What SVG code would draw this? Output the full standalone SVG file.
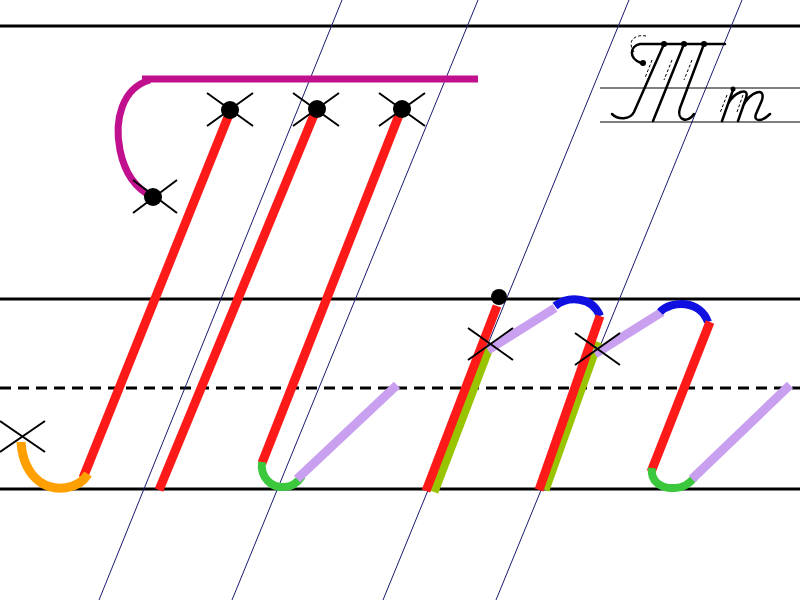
<svg xmlns="http://www.w3.org/2000/svg" width="800" height="600" viewBox="0 0 800 600">
<style>
.rule{stroke:#000;stroke-width:3;fill:none}
.dash{stroke:#000;stroke-width:3;stroke-dasharray:11 7;fill:none}
.guide{stroke:#1a1a70;stroke-width:1;fill:none}
.red{stroke:#ff1a1a;stroke-width:9;fill:none}
.vio{stroke:#c9a0f0;stroke-width:9;fill:none}
.yg{stroke:#99c400;stroke-width:9;fill:none}
.grn{stroke:#3cc83c;stroke-width:8;fill:none}
.blu{stroke:#1010e0;stroke-width:8;fill:none}
.org{stroke:#ffa000;stroke-width:9;fill:none}
.mag{stroke:#c0108e;stroke-width:7;fill:none}
.x{stroke:#000;stroke-width:2;fill:none}
.dot{fill:#000}
.logo{stroke:#000;stroke-width:2.5;fill:none;stroke-linecap:round}
.logothin{stroke:#000;stroke-width:1;fill:none}
.logodash{stroke:#000;stroke-width:1;fill:none;stroke-dasharray:3 2}
</style>
<rect width="800" height="600" fill="#fff"/>
<g id="ruling">
<line class="rule" x1="0" y1="26" x2="800" y2="26"/>
<line class="rule" x1="0" y1="299" x2="800" y2="299"/>
<line class="dash" x1="0" y1="388" x2="800" y2="388"/>
<line class="rule" x1="0" y1="489" x2="800" y2="489"/>
<line class="guide" x1="342" y1="0" x2="99" y2="600"/>
<line class="guide" x1="478" y1="0" x2="232" y2="600"/>
<line class="guide" x1="629" y1="0" x2="383" y2="600"/>
<line class="guide" x1="742" y1="0" x2="496" y2="600"/>
</g>
<g id="capital-T">
<line class="mag" x1="142" y1="79" x2="478" y2="79"/>
<path class="mag" d="M150,80 C122,88 114,120 120,150 C125,175 138,190 153,197"/>
<line class="red" x1="230" y1="112" x2="83" y2="478"/>
<path class="org" d="M88,474 C78,490 55,492 40,482 C28,473 22,458 21,442"/>
<line class="red" x1="316" y1="110" x2="159" y2="490"/>
<line class="red" x1="401" y1="110" x2="262" y2="463"/>
<path class="grn" d="M262,462 C260,478 272,488 284,487 C292,487 298,482 302,476"/>
<line class="vio" x1="297" y1="479" x2="397" y2="385"/>
</g>
<g id="lower-t">
<line class="yg" x1="489" y1="348" x2="434" y2="492"/>
<line class="red" x1="497" y1="306" x2="426" y2="491"/>
<line class="vio" x1="488" y1="350" x2="555" y2="308"/>
<path class="blu" d="M555,306 C568,296 592,296 600,316"/>
<line class="yg" x1="598" y1="342" x2="545" y2="490"/>
<line class="red" x1="600" y1="316" x2="539" y2="490"/>
<line class="vio" x1="595" y1="354" x2="662" y2="312"/>
<path class="blu" d="M660,312 C672,300 700,300 708,322"/>
<line class="red" x1="710" y1="322" x2="651" y2="472"/>
<path class="grn" d="M652,468 C650,482 662,489 675,488 C684,488 690,483 695,477"/>
<line class="vio" x1="692" y1="479" x2="790" y2="385"/>
</g>
<g id="points">
<circle class="dot" cx="230" cy="110" r="9"/>
<circle class="dot" cx="317" cy="109" r="9"/>
<circle class="dot" cx="402" cy="109" r="9"/>
<circle class="dot" cx="153" cy="197" r="9"/>
<circle class="dot" cx="499" cy="297" r="8"/>
<path class="x" d="M207,93 L253,126 M207,126 L253,93"/>
<path class="x" d="M293,93 L339,126 M293,126 L339,93"/>
<path class="x" d="M379,93 L425,126 M379,126 L425,93"/>
<path class="x" d="M133,180 L177,213 M133,213 L177,180"/>
<path class="x" d="M0,421 L45,452 M0,452 L45,421"/>
<path class="x" d="M468,328 L513,360 M468,360 L513,328"/>
<path class="x" d="M575,333 L620,365 M575,365 L620,333"/>
</g>
<g id="sample">
<line class="logothin" x1="600" y1="88" x2="800" y2="88"/>
<line class="logothin" x1="600" y1="122" x2="800" y2="122"/>
<path class="logo" d="M640,44 L725,44 M640,44 C630,46 628,58 641,63"/>
<circle class="dot" cx="643" cy="63" r="3"/>
<circle class="dot" cx="664" cy="44" r="3"/>
<circle class="dot" cx="684" cy="44" r="3"/>
<circle class="dot" cx="704" cy="44" r="3"/>
<path class="logo" d="M664,44 L634,112 C630,120 618,120 612,114"/>
<path class="logo" d="M684,44 L653,121"/>
<path class="logo" d="M704,44 L680,108 C676,120 688,124 694,114"/>
<circle class="dot" cx="733" cy="89" r="2.5"/>
<path class="logo" d="M733,90 L722,121 M728,104 C734,92 750,86 746,98 L738,121 M743,106 C750,92 766,86 762,100 L756,114 C753,122 762,122 770,114"/>
<path class="logodash" d="M634,52 C626,40 636,34 646,36 M652,60 L645,78 M672,60 L664,80 M692,60 L684,80 M727,95 L720,113 M743,95 L737,112"/>
</g>
</svg>
